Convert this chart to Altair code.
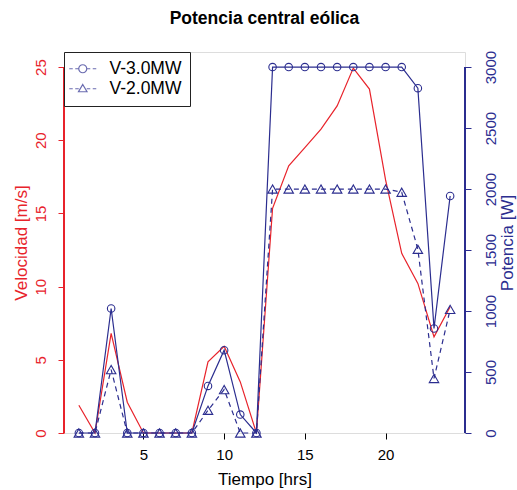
import altair as alt
import pandas as pd

# Hourly data for the wind farm
horas = list(range(1, 25))
velocidad = [1.9, 0.0, 6.8, 2.1, 0.0, 0.0, 0.0, 0.0, 4.86, 5.93, 3.49, 0.0,
             15.35, 18.25, 19.5, 20.76, 22.35, 24.93, 23.5, 17.29, 12.27, 10.22, 6.57, 8.62]
pot_3mw = [0, 0, 1021, 0, 0, 0, 0, 0, 386, 679, 151, 0,
           3000, 3000, 3000, 3000, 3000, 3000, 3000, 3000, 3000, 2827, 857, 1943]
pot_2mw = [0, 0, 520, 0, 0, 0, 0, 0, 186, 356, 0, 0,
           2000, 2000, 2000, 2000, 2000, 2000, 2000, 2000, 1974, 1506, 447, 1013]
series = ["V-3.0MW", "V-2.0MW"]

ticks_x = [5, 10, 15, 20]
ticks_vel = [0, 5, 10, 15, 20, 25]
ticks_pot = [0, 500, 1000, 1500, 2000, 2500, 3000]

RED = "#e8232b"
BLUE = "#2b2d8f"
FONT = "Liberation Sans"

df = pd.DataFrame({"hora": horas, "velocidad": velocidad, "p3": pot_3mw, "p2": pot_2mw})
one = pd.DataFrame({"k": [0]})

x_enc = alt.X(
    "hora:Q",
    scale=alt.Scale(domain=[0.08, 24.92], nice=False, zero=False),
    axis=alt.Axis(values=ticks_x, title="Tiempo [hrs]", domain=False, grid=False,
                  tickColor="black", tickSize=6, labelFontSize=15, labelPadding=8,
                  labelColor="black", labelFont=FONT, titleFont=FONT, titleFontSize=17,
                  titleFontWeight="normal", titleColor="black", titlePadding=9,
                  format="d"),
)

vel_scale = alt.Scale(domain=[0, 26.03], nice=False, zero=False)
vel_axis = alt.Axis(values=ticks_vel, orient="left", title="Velocidad [m/s]", domain=False,
                    grid=False, tickColor=RED, tickSize=6, labelColor=RED, labelFontSize=15,
                    labelFont=FONT, labelAngle=270, labelAlign="center", labelBaseline="bottom",
                    labelPadding=10, titleColor=RED, titleFont=FONT, titleFontSize=17,
                    titleFontWeight="normal", titlePadding=3, format="d")

pot_scale = alt.Scale(domain=[0, 3123.6], nice=False, zero=False)
pot_axis = alt.Axis(values=ticks_pot, orient="right", title="Potencia [W]", domain=False,
                    grid=False, tickColor=BLUE, tickSize=6, labelColor=BLUE, labelFontSize=15,
                    labelFont=FONT, labelAngle=270, labelAlign="center", labelBaseline="top",
                    labelPadding=12, titleColor=BLUE, titleFont=FONT, titleFontSize=17,
                    titleFontWeight="normal", titleAngle=270, titleBaseline="top",
                    titlePadding=1, format="d")

# Velocity (left axis)
vel_line = alt.Chart(df).mark_line(color=RED, strokeWidth=1.2).encode(
    x=x_enc, y=alt.Y("velocidad:Q", scale=vel_scale, axis=vel_axis))
vel_axis_line = alt.Chart(one).mark_rule(color=RED, strokeWidth=2).encode(
    x=alt.value(0), y=alt.datum(ticks_vel[0]), y2=alt.datum(ticks_vel[-1]))
left = alt.layer(vel_line, vel_axis_line)

# Power (right axis)
y3 = alt.Y("p3:Q", scale=pot_scale, axis=pot_axis)
y2 = alt.Y("p2:Q", scale=pot_scale, axis=pot_axis)

line3 = alt.Chart(df).mark_line(color=BLUE, strokeWidth=1.2).encode(x=x_enc, y=y3)
pts3 = alt.Chart(df).mark_point(shape="circle", color=BLUE, size=56, strokeWidth=1.1,
                                opacity=1, filled=False).encode(x=x_enc, y=y3)
line2 = alt.Chart(df).mark_line(color=BLUE, strokeWidth=1.2, strokeDash=[5, 4]).encode(
    x=x_enc, y=y2)
pts2 = alt.Chart(df).mark_point(shape="triangle-up", color=BLUE, size=90, strokeWidth=1.1,
                                opacity=1, filled=False).encode(x=x_enc, y=y2)
pot_axis_line = alt.Chart(one).mark_rule(color=BLUE, strokeWidth=2).encode(
    x=alt.value(401), y=alt.datum(ticks_pot[0]), y2=alt.datum(ticks_pot[-1]))

# Legend symbols: dashed segment with the series marker in the middle
sym_circle = ("M-2.7,0 L-2.0,0 M-1.5,0 L-0.8,0 "
              "M0.8,0 A0.8,0.8 0 1,1 -0.8,0 A0.8,0.8 0 1,1 0.8,0 "
              "M0.8,0 L1.5,0 M2.0,0 L2.7,0")
sym_tri = ("M-2.7,0 L-2.0,0 M-1.5,0 L-0.8,0 "
           "M0,-0.85 L0.85,0.6 L-0.85,0.6 Z "
           "M0.8,0 L1.5,0 M2.0,0 L2.7,0")

legend_layer = alt.Chart(pd.DataFrame({"serie": series})).transform_filter("false").mark_point(
    color=BLUE, filled=False).encode(
    shape=alt.Shape("serie:N", scale=alt.Scale(domain=series, range=[sym_circle, sym_tri]),
                    legend=alt.Legend(title=None, orient="none", legendX=0, legendY=0,
                                      fillColor="white", strokeColor="#222", padding=8,
                                      symbolSize=100, symbolStrokeColor=BLUE,
                                      symbolFillColor="transparent", symbolStrokeWidth=1.2,
                                      symbolOffset=2, labelOffset=18, labelFontSize=17.5,
                                      labelFont=FONT, labelColor="black", rowPadding=1)))

right = alt.layer(line3, line2, pts3, pts2, pot_axis_line, legend_layer)

chart = alt.layer(left, right).resolve_scale(y="independent").properties(
    width=401, height=381,
    title=alt.TitleParams("Potencia central eólica", font=FONT, fontSize=17.5,
                          fontWeight="bold", color="black", anchor="middle", offset=23),
    autosize=alt.AutoSizeParams(type="none"),
    padding={"left": 64, "top": 52, "right": 52, "bottom": 57},
).configure_view(stroke="#333", strokeWidth=1).configure(background="white")

chart.save("out.html", embed_options={"renderer": "svg", "actions": False})
